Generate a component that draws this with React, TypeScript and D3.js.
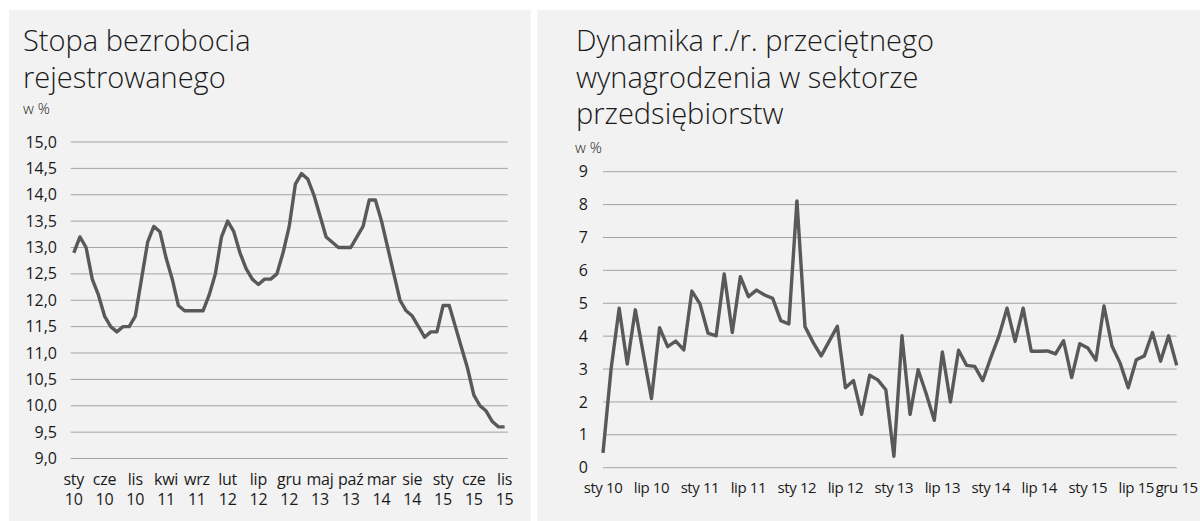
import React from "react";
import * as d3 from "d3";

// polish month abbreviations used on both axes
const monthNames = ["sty", "lut", "mar", "kwi", "maj", "cze", "lip", "sie", "wrz", "paź", "lis", "gru"];
const years = ["10", "11", "12", "13", "14", "15"];

// stopa bezrobocia rejestrowanego, sty 2010 - lis 2015
const unemployment = [
  12.9, 13.2, 13.0, 12.4, 12.1, 11.7, 11.5, 11.4, 11.5, 11.5, 11.7, 12.4,
  13.1, 13.4, 13.3, 12.8, 12.4, 11.9, 11.8, 11.8, 11.8, 11.8, 12.1, 12.5,
  13.2, 13.5, 13.3, 12.9, 12.6, 12.4, 12.3, 12.4, 12.4, 12.5, 12.9, 13.4,
  14.2, 14.4, 14.3, 14.0, 13.6, 13.2, 13.1, 13.0, 13.0, 13.0, 13.2, 13.4,
  13.9, 13.9, 13.5, 13.0, 12.5, 12.0, 11.8, 11.7, 11.5, 11.3, 11.4, 11.4,
  11.9, 11.9, 11.5, 11.1, 10.7, 10.2, 10.0, 9.9, 9.7, 9.6, 9.6,
];

// dynamika r./r. wynagrodzenia, sty 2010 - gru 2015
const wages = [
  0.45, 3.0, 4.85, 3.15, 4.8, 3.45, 2.1, 4.26, 3.68, 3.85, 3.58, 5.37,
  4.98, 4.09, 4.01, 5.89, 4.11, 5.81, 5.2, 5.4, 5.25, 5.15, 4.47, 4.37,
  8.11, 4.29, 3.81, 3.4, 3.85, 4.3, 2.43, 2.65, 1.62, 2.81, 2.67, 2.37,
  0.35, 4.01, 1.62, 2.98, 2.25, 1.44, 3.52, 2.0, 3.57, 3.11, 3.08, 2.65,
  3.35, 4.0, 4.85, 3.84, 4.85, 3.54, 3.54, 3.55, 3.46, 3.86, 2.74, 3.77,
  3.64, 3.27, 4.92, 3.69, 3.18, 2.43, 3.28, 3.4, 4.11, 3.24, 4.01, 3.11,
];

const leftTicks = [9, 9.5, 10, 10.5, 11, 11.5, 12, 12.5, 13, 13.5, 14, 14.5, 15];
const rightTicks = [0, 1, 2, 3, 4, 5, 6, 7, 8, 9];

const months = years.flatMap((y) => monthNames.map((m) => ({ m, y })));
const leftMonths = months.slice(0, unemployment.length);
const rightMonths = months.slice(0, wages.length);

const FONT = "'Open Sans', Lato, sans-serif";
const GRID = "#a3a3a3";
const LINE = "#595959";
const TXT = "#1a1a1a";

const fmt = (v: number) => d3.format(".1f")(v).replace(".", ",");

const Title = ({ x, lines, sub, subY }: { x: number; lines: string[]; sub: number; subY: number }) => (
  <g fontFamily={FONT} fill={TXT}>
    {lines.map((l, i) => (
      <text key={i} x={x} y={51 + i * 36.5} fontSize={29} fontWeight={300}>{l}</text>
    ))}
    <text x={sub} y={subY} fontSize={15} fontWeight={300}>w %</text>
  </g>
);

const LeftChart = () => {
  const x = d3.scaleBand<number>()
    .domain(d3.range(leftMonths.length))
    .range([70.7, 507.7]);
  const y = d3.scaleLinear().domain([9, 15]).range([458.5, 142]);
  const line = d3.line<number>()
    .x((_, i) => x(i)! + x.bandwidth() / 2)
    .y((d) => y(d));
  const labelIdx = d3.range(0, leftMonths.length, 5);
  return (
    <g>
      <rect x={9} y={10} width={521.7} height={511} fill="#f2f2f2" />
      <Title x={23} lines={["Stopa bezrobocia", "rejestrowanego"]} sub={23} subY={114} />
      {leftTicks.map((t) => (
        <g key={t}>
          <line x1={70.7} x2={507.7} y1={y(t)} y2={y(t)} stroke={GRID} strokeWidth={1} />
          <text x={57} y={y(t)} dy="0.35em" textAnchor="end" fontSize={16} fill={TXT} fontFamily={FONT}>
            {fmt(t)}
          </text>
        </g>
      ))}
      <path d={line(unemployment) || ""} fill="none" stroke={LINE} strokeWidth={3.4} strokeLinejoin="round" />
      {labelIdx.map((i) => {
        const cx = x(i)! + x.bandwidth() / 2;
        return (
          <g key={i} fontSize={16} fill={TXT} fontFamily={FONT} textAnchor="middle" letterSpacing={-0.2}>
            <text x={cx} y={485}>{leftMonths[i].m}</text>
            <text x={cx} y={505}>{leftMonths[i].y}</text>
          </g>
        );
      })}
    </g>
  );
};

const RightChart = () => {
  const x = d3.scalePoint<number>()
    .domain(d3.range(rightMonths.length))
    .range([603, 1176.7]);
  const y = d3.scaleLinear().domain([0, 9]).range([467.7, 171.7]);
  const line = d3.line<number>()
    .x((_, i) => x(i)!)
    .y((d) => y(d));
  const labelIdx = [...d3.range(0, rightMonths.length, 6), rightMonths.length - 1];
  return (
    <g>
      <rect x={537.3} y={10} width={670} height={511} fill="#f2f2f2" />
      <Title x={576} lines={["Dynamika r./r. przeciętnego", "wynagrodzenia w sektorze", "przedsiębiorstw"]} sub={575} subY={153} />
      {rightTicks.map((t) => (
        <g key={t}>
          <line x1={603} x2={1176.7} y1={y(t)} y2={y(t)} stroke={GRID} strokeWidth={1} />
          <text x={588} y={y(t)} dy="0.35em" textAnchor="end" fontSize={16} fill={TXT} fontFamily={FONT}>
            {t}
          </text>
        </g>
      ))}
      <path d={line(wages) || ""} fill="none" stroke={LINE} strokeWidth={3.4} strokeLinejoin="round" />
      {labelIdx.map((i) => (
        <text key={i} x={x(i)!} y={493} textAnchor="middle" fontSize={15} letterSpacing={-0.4} fill={TXT} fontFamily={FONT}>
          {rightMonths[i].m} {rightMonths[i].y}
        </text>
      ))}
    </g>
  );
};

export default function App() {
  return (
    <svg width={1200} height={521} style={{ position: "absolute", left: 0, top: 0, background: "#fff" }}>
      <LeftChart />
      <RightChart />
    </svg>
  );
}
